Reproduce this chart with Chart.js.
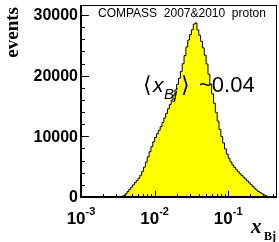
<!DOCTYPE html>
<html>
<head>
<meta charset="UTF-8">
<title>COMPASS x_Bj</title>
<script src="https://cdn.jsdelivr.net/npm/chart.js"></script>
<style>
  body { margin: 0; background: #fff; }
  #c { display: block; }
</style>
</head>
<body>
<canvas id="c" width="279" height="242"></canvas>
<script>
  // bin low edges (last entry = upper edge of last bin), log-spaced
  const binEdges = [0.003548, 0.003758, 0.003981, 0.004217, 0.004467, 0.004732, 0.005012, 0.005309,
    0.005623, 0.005957, 0.006310, 0.006683, 0.007079, 0.007499, 0.007943, 0.008414, 0.008913, 0.009441,
    0.01, 0.01059, 0.01122, 0.01189, 0.01259, 0.01334, 0.01413, 0.01496, 0.01585, 0.01679, 0.01778,
    0.01884, 0.01995, 0.02113, 0.02239, 0.02371, 0.02512, 0.02661, 0.02818, 0.02985, 0.03162, 0.03350,
    0.03548, 0.03758, 0.03981, 0.04217, 0.04467, 0.04732, 0.05012, 0.05309, 0.05623, 0.05957, 0.06310,
    0.06683, 0.07079, 0.07499, 0.07943, 0.08414, 0.08913, 0.09441,
    0.1, 0.1059, 0.1122, 0.1189, 0.1259, 0.1334, 0.1413, 0.1496, 0.1585, 0.1679, 0.1778, 0.1884,
    0.1995, 0.2113, 0.2239, 0.2371, 0.2512, 0.2661, 0.2818, 0.2985, 0.3162, 0.3350, 0.3548, 0.3758, 0.3981];
  const counts = [40, 120, 260, 515, 885, 1255, 1625, 1995, 2365, 2735,
    3100, 3585, 4195, 4920, 5755, 6600, 7460, 8295, 9100, 9805,
    10410, 11010, 11600, 12280, 13030, 13780, 14520, 15260, 16000, 16800,
    17660, 18580, 19570, 20700, 21970, 23320, 24730, 25880, 26770, 27570,
    28500, 28700, 27530, 26660, 25670, 24580, 23370, 21920, 20240, 18600,
    17000, 15450, 13950, 12520, 11150, 9950, 8900, 7940, 7080, 6370,
    5800, 5300, 4880, 4490, 4160, 3840, 3540, 3240, 2950, 2650,
    2340, 2040, 1750, 1450, 1150, 910, 725, 545, 360, 215, 105, 40];

  const yTicks = [0, 10000, 20000, 30000];
  const yTickLabels = ['0', '10000', '20000', '30000'];
  const yMinorStep = 2000;
  const xDecades = [0.001, 0.01, 0.1];
  const xDecadeExp = ['-3', '-2', '-1'];
  const xMinorMult = [2, 3, 4, 5, 6, 7, 8, 9];

  const points = counts.map((v, i) => ({ x: binEdges[i], y: v }));
  points.push({ x: binEdges[binEdges.length - 1], y: 0 });

  const SANS = '"Liberation Sans", Arial, sans-serif';
  const SERIF = '"Liberation Serif", "Times New Roman", serif';

  const rootAxes = {
    id: 'rootAxes',
    afterDatasetsDraw(chart) {
      const { ctx, chartArea: a, scales: { x, y } } = chart;
      ctx.save();
      ctx.strokeStyle = '#000';
      ctx.fillStyle = '#000';

      // frame
      ctx.lineWidth = 1;
      ctx.strokeRect(a.left + 0.5, a.top + 0.5, a.right - a.left - 1, a.bottom - a.top);
      ctx.lineWidth = 2;
      ctx.beginPath();
      ctx.moveTo(a.left, a.top);
      ctx.lineTo(a.left, a.bottom);
      ctx.lineTo(a.right, a.bottom);
      ctx.stroke();

      // y ticks
      ctx.lineWidth = 1;
      ctx.beginPath();
      for (let v = 0; v <= y.max; v += yMinorStep) {
        const py = Math.round(y.getPixelForValue(v)) + 0.5;
        const len = (v % 10000 === 0) ? 8 : 4;
        ctx.moveTo(a.left, py);
        ctx.lineTo(a.left + len, py);
      }
      // x ticks
      xDecades.forEach(d => {
        const px = Math.round(x.getPixelForValue(d)) + 0.5;
        ctx.moveTo(px, a.bottom);
        ctx.lineTo(px, a.bottom - 6);
        xMinorMult.forEach(m => {
          const v = d * m;
          if (v > x.max) return;
          const qx = Math.round(x.getPixelForValue(v)) + 0.5;
          ctx.moveTo(qx, a.bottom);
          ctx.lineTo(qx, a.bottom - 3);
        });
      });
      ctx.stroke();

      // y labels
      ctx.font = 'bold 16px ' + SANS;
      ctx.textAlign = 'right';
      ctx.textBaseline = 'middle';
      yTicks.forEach((v, i) => {
        ctx.fillText(yTickLabels[i], a.left - 3, y.getPixelForValue(v) + 1);
      });

      // x labels 10^n
      ctx.textBaseline = 'alphabetic';
      ctx.textAlign = 'left';
      xDecades.forEach((d, i) => {
        const px = x.getPixelForValue(d);
        ctx.font = 'bold 17px ' + SANS;
        const w1 = ctx.measureText('10').width;
        ctx.font = 'bold 11px ' + SANS;
        const w2 = ctx.measureText(xDecadeExp[i]).width;
        const x0 = px - (w1 + w2) / 2;
        ctx.font = 'bold 17px ' + SANS;
        ctx.fillText('10', x0, 224);
        ctx.font = 'bold 11px ' + SANS;
        ctx.fillText(xDecadeExp[i], x0 + w1, 215);
      });

      // x title
      ctx.font = 'bold italic 21px ' + SERIF;
      ctx.fillText('x', 251, 233);
      ctx.font = 'bold 12px ' + SERIF;
      ctx.fillText('Bj', 264, 240);

      // y title
      ctx.save();
      ctx.translate(18, 7);
      ctx.rotate(-Math.PI / 2);
      ctx.font = 'bold 19px ' + SERIF;
      ctx.textAlign = 'right';
      ctx.fillText('events', 0, 0);
      ctx.restore();

      // header
      ctx.font = '12px ' + SANS;
      ctx.fillText('COMPASS  2007&2010  proton', 98, 17);

      // annotation
      ctx.font = '22px "DejaVu Sans", ' + SANS;
      ctx.fillText('\u27E8', 143, 92);
      ctx.font = 'italic 21px ' + SANS;
      ctx.fillText('x', 153, 92);
      ctx.font = 'italic 15px ' + SANS;
      ctx.fillText('Bj', 164, 99);
      ctx.font = '22px "DejaVu Sans", ' + SANS;
      ctx.fillText('\u27E9', 181, 92);
      ctx.font = '22px ' + SANS;
      ctx.fillText('~0.04', 199, 92);

      ctx.restore();
    }
  };

  new Chart(document.getElementById('c'), {
    type: 'line',
    data: {
      datasets: [{
        data: points,
        stepped: 'after',
        fill: 'origin',
        backgroundColor: '#ffff00',
        borderColor: '#000',
        borderWidth: 1,
        pointRadius: 0
      }]
    },
    options: {
      responsive: false,
      animation: false,
      devicePixelRatio: 1,
      layout: { padding: { left: 81, right: 2, top: 5, bottom: 45 } },
      plugins: { legend: { display: false }, tooltip: { enabled: false } },
      scales: {
        x: { type: 'logarithmic', min: 0.001, max: 0.46, display: false },
        y: { type: 'linear', min: 0, max: 31650, display: false }
      }
    },
    plugins: [rootAxes]
  });
</script>
</body>
</html>
